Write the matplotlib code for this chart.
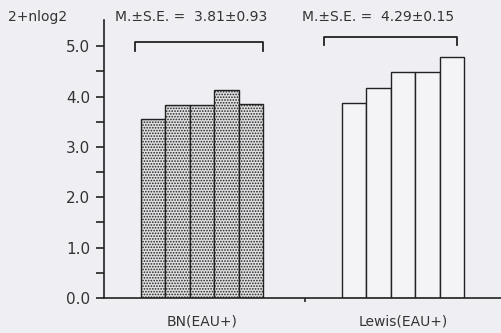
import matplotlib.pyplot as plt

bn_values = [3.55, 3.84, 3.84, 4.14, 3.85]
lewis_values = [3.87, 4.17, 4.48, 4.48, 4.78]
group_labels = ["BN(EAU+)", "Lewis(EAU+)"]
group_stats = ["M.\u00b1S.E. =  3.81\u00b10.93", "M.\u00b1S.E. =  4.29\u00b10.15"]
y_ticks = [0.0, 1.0, 2.0, 3.0, 4.0, 5.0]

bn_x = [2.0, 3.0, 4.0, 5.0, 6.0]
lewis_x = [10.2, 11.2, 12.2, 13.2, 14.2]

plt.rcParams['font.family'] = ['DejaVu Sans']
fig = plt.figure(figsize=(5.01, 3.33), dpi=100, facecolor='#efeff3')
ax = fig.add_axes([104 / 501, 35 / 333, 397 / 501, 278 / 333])
ax.set_facecolor('#efeff3')

plt.rcParams['hatch.linewidth'] = 0.8
ax.bar(bn_x, bn_values, width=1.0, color='#e0e0e2', edgecolor='#222222',
       hatch='......', linewidth=1.0)
ax.bar(lewis_x, lewis_values, width=1.0, color='#f4f4f6', edgecolor='#222222',
       linewidth=1.0)

ax.set_xlim(0, 16.2)
ax.set_ylim(0, 5.52)

for s in ['top', 'right']:
    ax.spines[s].set_visible(False)
for s in ['left', 'bottom']:
    ax.spines[s].set_linewidth(1.2)
    ax.spines[s].set_color('#222222')

ax.set_yticks(y_ticks)
ax.set_yticklabels([f"{v:.1f}" for v in y_ticks], fontsize=11, color='#333333')
ax.set_yticks([0.5, 1.5, 2.5, 3.5, 4.5], minor=True)
ax.tick_params(axis='y', which='both', length=6, width=1.2, color='#222222', pad=4)

ax.set_xticks([8.2])
ax.set_xticklabels([""])
ax.tick_params(axis='x', length=3, width=1.2, direction='out', color='#222222')

# group labels under the axis
for xc, lab in zip([4.0, 12.2], group_labels):
    ax.text(xc, -0.33, lab, ha='center', va='top', fontsize=10, color='#333333')

# brackets with mean +/- SE
bracket = [(1.27, 6.5, 5.09, 4.9), (8.98, 14.4, 5.19, 5.03)]
for (x0, x1, ytop, ybot), txt in zip(bracket, group_stats):
    ax.plot([x0, x0, x1, x1], [ybot, ytop, ytop, ybot], color='#222222',
            linewidth=1.3, clip_on=False)
ax.text(0.45, 5.58, group_stats[0], ha='left', va='center', fontsize=10,
        color='#333333', clip_on=False)
ax.text(8.1, 5.58, group_stats[1], ha='left', va='center', fontsize=10,
        color='#333333', clip_on=False)

fig.text(8 / 501, 1 - 17 / 333, "2+nlog2", ha='left', va='center', fontsize=10,
         color='#333333')

fig.savefig('out.png', dpi=100, facecolor=fig.get_facecolor())
